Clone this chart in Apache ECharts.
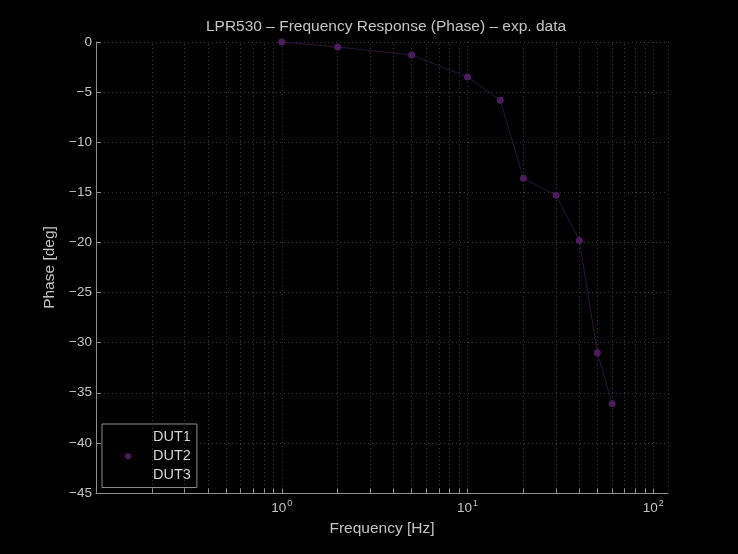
<!DOCTYPE html>
<html>
<head>
<meta charset="utf-8">
<script src="https://cdn.jsdelivr.net/npm/echarts@6/dist/echarts.min.js"></script>
<style>html,body{margin:0;padding:0;background:#000;}#c{width:738px;height:554px;}</style>
</head>
<body>
<div id="c"></div>
<script>
// Data
const frequencies = [1, 2, 5, 10, 15, 20, 30, 40, 50, 60];
const dut2Phase = [0, -0.5, -1.3, -3.5, -5.8, -13.6, -15.3, -19.8, -31.0, -36.1];
const dut1Phase = [];
const dut3Phase = [];
const seriesNames = ['DUT1', 'DUT2', 'DUT3'];
const xMajorTicks = [1, 10, 100];
const xMinorTicks = [0.2,0.3,0.4,0.5,0.6,0.7,0.8,0.9,2,3,4,5,6,7,8,9,20,30,40,50,60,70,80,90];
const yTicks = [0, -5, -10, -15, -20, -25, -30, -35, -40, -45];

const FONT = "'Liberation Sans', Arial, sans-serif";
const TXT = '#c4c4c4';
const AX = '#8f8f8f';
const GRIDC = '#3a3a3a';
const PURPLE = '#4b1d5c';

const chart = echarts.init(document.getElementById('c'));

const minorGridLines = xMinorTicks.map(v => ({xAxis: v}));
const minorTickMarks = xMinorTicks.concat(xMajorTicks).map(v => [
  {coord: [v, -45]}, {coord: [v, -44.55]}
]);

chart.setOption({
  backgroundColor: '#000',
  animation: false,
  title: {
    text: 'LPR530 – Frequency Response (Phase) – exp. data',
    left: 381, textAlign: 'center', top: 14,
    textStyle: {color: TXT, fontFamily: FONT, fontSize: 15.5, fontWeight: 'normal'}
  },
  grid: {left: 96, right: 70, top: 42, bottom: 61, containLabel: false},
  legend: {
    orient: 'vertical', left: 102, top: 424,
    padding: [4, 6, 3, 23], itemGap: 0.5, itemWidth: 40, itemHeight: 6,
    backgroundColor: '#000', borderColor: '#8a8a8a', borderWidth: 1,
    textStyle: {color: '#d4d4d4', fontFamily: FONT, fontSize: 14.5, lineHeight: 18.5, padding: [0,0,0,0]},
    data: [
      {name: 'DUT1', icon: 'circle', itemStyle: {color: 'rgba(0,0,0,0)'}},
      {name: 'DUT2', icon: 'circle'},
      {name: 'DUT3', icon: 'circle', itemStyle: {color: 'rgba(0,0,0,0)'}}
    ],
    selectedMode: false
  },
  xAxis: {
    type: 'log', logBase: 10, min: 0.1, max: 120,
    name: 'Frequency [Hz]', nameLocation: 'middle', nameGap: 28,
    nameTextStyle: {color: TXT, fontFamily: FONT, fontSize: 15.5},
    axisLine: {show: true, onZero: false, lineStyle: {color: AX, width: 1}},
    axisTick: {show: false},
    splitLine: {show: true, lineStyle: {color: GRIDC, type: [1, 3], width: 1}},
    axisLabel: {
      margin: 6,
      formatter: function (v) {
        const e = Math.round(Math.log10(v));
        if (e < 0 || Math.abs(Math.log10(v) - e) > 1e-6) return '';
        return '{b|10}{s|' + String(e) + '}';
      },
      rich: {
        b: {color: TXT, fontFamily: FONT, fontSize: 13.5},
        s: {color: TXT, fontFamily: FONT, fontSize: 9, verticalAlign: 'top', padding: [0,0,10,1]}
      }
    }
  },
  yAxis: {
    type: 'value', min: -45, max: 0, interval: 5,
    name: 'Phase [deg]', nameLocation: 'middle', nameGap: 37,
    nameTextStyle: {color: TXT, fontFamily: FONT, fontSize: 15.5},
    axisLine: {show: true, lineStyle: {color: AX, width: 1}},
    axisTick: {show: true, inside: true, length: 5, lineStyle: {color: AX}},
    splitLine: {show: true, lineStyle: {color: GRIDC, type: [1, 3], width: 1}},
    axisLabel: {
      color: TXT, fontFamily: FONT, fontSize: 13.5, margin: 4,
      formatter: v => String(v).replace('-', '−')
    }
  },
  series: [
    {
      name: 'DUT1', type: 'line', data: dut1Phase, symbol: 'none',
      lineStyle: {color: '#050505', width: 1}, itemStyle: {color: 'rgba(0,0,0,0)'},
      markLine: {
        silent: true, symbol: 'none', label: {show: false},
        lineStyle: {color: GRIDC, type: [1, 3], width: 1},
        data: minorGridLines
      }
    },
    {
      name: 'DUT2', type: 'line',
      data: frequencies.map((f, i) => [f, dut2Phase[i]]),
      symbol: 'circle', symbolSize: 7,
      lineStyle: {color: '#2a1736', width: 1},
      itemStyle: {color: PURPLE},
      z: 5
    },
    {
      name: 'DUT3', type: 'line', data: dut3Phase, symbol: 'none',
      lineStyle: {color: '#050505', width: 1}, itemStyle: {color: 'rgba(0,0,0,0)'},
      markLine: {
        silent: true, symbol: 'none', label: {show: false},
        lineStyle: {color: AX, type: 'solid', width: 1},
        data: minorTickMarks
      }
    }
  ]
});
</script>
</body>
</html>
